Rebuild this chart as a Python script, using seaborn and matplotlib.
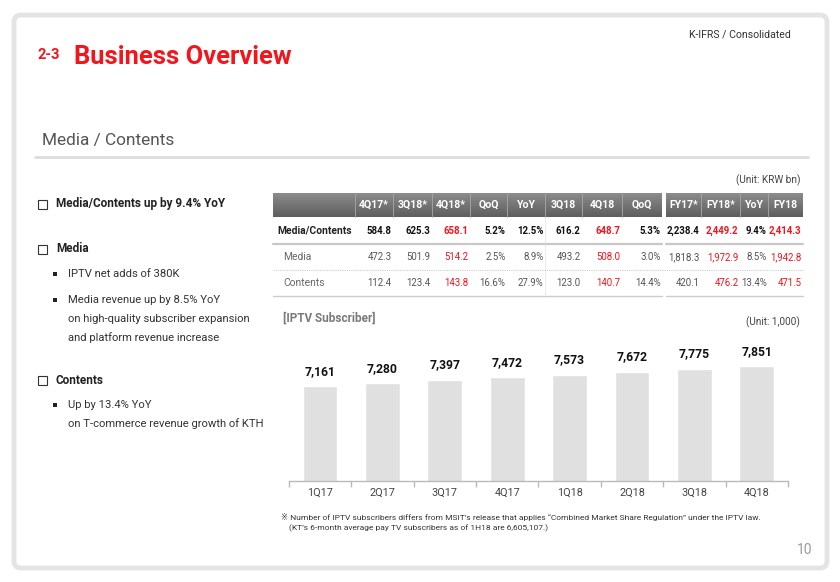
import matplotlib
matplotlib.use('Agg')
import matplotlib.pyplot as plt
import seaborn as sns
import numpy as np
from matplotlib.patches import Rectangle, FancyBboxPatch

# ---- data ----
quarters = ['1Q17', '2Q17', '3Q17', '4Q17', '1Q18', '2Q18', '3Q18', '4Q18']
iptv_subs = [7161, 7280, 7397, 7472, 7573, 7672, 7775, 7851]

table_cols = ['4Q17*', '3Q18*', '4Q18*', 'QoQ', 'YoY', '3Q18', '4Q18', 'QoQ',
              'FY17*', 'FY18*', 'YoY', 'FY18']
row_labels = ['Media/Contents', 'Media', 'Contents']
media_contents = [584.8, 625.3, 658.1, 5.2, 12.5, 616.2, 648.7, 5.3, 2238.4, 2449.2, 9.4, 2414.3]
media = [472.3, 501.9, 514.2, 2.5, 8.9, 493.2, 508.0, 3.0, 1818.3, 1972.9, 8.5, 1942.8]
contents = [112.4, 123.4, 143.8, 16.6, 27.9, 123.0, 140.7, 14.4, 420.1, 476.2, 13.4, 471.5]
pct_cols = [3, 4, 7, 10]
red_cols = [2, 6, 9, 11]
shaded_cols = [2, 6, 11]

bullets = [
    ('box', ['Media/Contents up by 9.4% YoY']),
    ('box', ['Media']),
    ('dot', ['IPTV net adds of 380K']),
    ('dot', ['Media revenue up by 8.5% YoY', 'on high-quality subscriber expansion',
             'and platform revenue increase']),
    ('box', ['Contents']),
    ('dot', ['Up by 13.4% YoY', 'on T-commerce revenue growth of KTH']),
]

sns.set_theme(style='white')
plt.rcParams['font.family'] = ['Roboto', 'DejaVu Sans']

RED = '#f2151c'
W, H = 840, 582
fig = plt.figure(figsize=(W / 100, H / 100), dpi=100)

# full-page canvas in pixel coordinates
cv = fig.add_axes([0, 0, 1, 1])
cv.set_xlim(0, W)
cv.set_ylim(H, 0)
cv.axis('off')

cv.add_patch(FancyBboxPatch((14, 15), 813, 553, boxstyle='round,pad=0,rounding_size=7',
                            fc='white', ec='#e4e4e4', lw=3.5))

cv.text(791, 34, 'K-IFRS / Consolidated', ha='right', va='center', fontsize=7.6, color='#333333')
cv.text(38, 55, '2-3', ha='left', va='center', fontsize=10.5, color=RED, fontweight='bold')
cv.text(74, 57, 'Business Overview', ha='left', va='center', fontsize=18.4, color=RED,
        fontweight='bold')
cv.text(42, 140, 'Media / Contents', ha='left', va='center', fontsize=12.4, color='#555555')
cv.plot([35, 808], [157, 157], color='#dddddd', lw=2)

# ---- left text ----
y_pos = [204, 249, 274, 300, 380, 405]
for (kind, lines), y in zip(bullets, y_pos):
    if kind == 'box':
        cv.add_patch(Rectangle((38, y - 4.5), 9, 9, fc='white', ec='#333333', lw=0.8))
        cv.text(56, y, lines[0], ha='left', va='center', fontsize=8.5, fontweight='bold',
                color='#222222')
    else:
        cv.add_patch(Rectangle((52.5, y - 2), 4, 4, fc='#222222', ec='none'))
        for i, line in enumerate(lines):
            cv.text(68, y + i * 18.7, line, ha='left', va='center', fontsize=8.1, color='#333333')

# ---- table ----
lefts = [355, 393, 432, 470, 507, 545, 582, 622, 666, 701, 740, 768]
rights = [393, 432, 470, 507, 545, 582, 622, 662, 701, 740, 768, 803]
tx0 = 273
ht, hb = 193, 217
row_edges = [217, 244, 270, 296]

cv.text(800, 180, '(Unit: KRW bn)', ha='right', va='center', fontsize=7.2, color='#444444')

grad = np.linspace(0, 1, 50).reshape(-1, 1)
cv.imshow(grad, cmap=sns.blend_palette(['#8c8c8c', '#5e5e5e'], as_cmap=True),
          extent=(tx0, 803, hb, ht), aspect='auto', zorder=1)
cv.set_xlim(0, W)
cv.set_ylim(H, 0)
cv.add_patch(Rectangle((662, ht - 1), 4, hb - ht + 2, fc='white', ec='none', zorder=2))
for x in lefts[:8] + lefts[9:]:
    cv.plot([x, x], [ht, hb], color='#a8a8a8', lw=0.6, zorder=2)
for c, name in enumerate(table_cols):
    cv.text((lefts[c] + rights[c]) / 2, (ht + hb) / 2, name, ha='center', va='center',
            fontsize=7.6, color='white', fontweight='bold', zorder=3)

# total row background + shaded columns
cv.add_patch(Rectangle((tx0, row_edges[0]), 803 - tx0, row_edges[1] - row_edges[0],
                       fc='#f4f4f4', ec='none', zorder=0))
for c in shaded_cols:
    cv.add_patch(Rectangle((lefts[c], row_edges[1]), rights[c] - lefts[c],
                           row_edges[3] - row_edges[1], fc='#f3f3f3', ec='none', zorder=0))
cv.add_patch(Rectangle((662, row_edges[0]), 4, row_edges[3] - row_edges[0],
                       fc='white', ec='none', zorder=1))

cv.plot([tx0, 662], [row_edges[1], row_edges[1]], color='#c8c8c8', lw=1.6, zorder=2)
cv.plot([666, 803], [row_edges[1], row_edges[1]], color='#c8c8c8', lw=1.6, zorder=2)
cv.plot([tx0, 803], [row_edges[2], row_edges[2]], color='#cccccc', lw=0.8, ls=(0, (1, 1)), zorder=2)
cv.plot([tx0, 662], [row_edges[3], row_edges[3]], color='#cccccc', lw=1, zorder=2)
cv.plot([666, 803], [row_edges[3], row_edges[3]], color='#cccccc', lw=1, zorder=2)
cv.plot([545, 545], [row_edges[0], row_edges[3]], color='#d0d0d0', lw=0.6, ls=(0, (1, 1)), zorder=2)

rows = [media_contents, media, contents]
for r, (label, vals) in enumerate(zip(row_labels, rows)):
    yc = (row_edges[r] + row_edges[r + 1]) / 2
    bold = r == 0
    cv.text(277 if bold else 283, yc, label, ha='left', va='center', fontsize=7.4,
            fontweight='bold' if bold else 'normal', color='#222222' if bold else '#666666',
            zorder=3)
    for c, v in enumerate(vals):
        s = f'{v:.1f}%' if c in pct_cols else f'{v:,.1f}'
        col = RED if c in red_cols else ('#111111' if bold else '#555555')
        cv.text(rights[c] - 1.5, yc, s, ha='right', va='center', fontsize=6.9,
                fontweight='bold' if bold else 'normal', color=col, zorder=3)

# ---- bar chart ----
cv.text(283, 318, '[IPTV Subscriber]', ha='left', va='center', fontsize=8.5,
        fontweight='bold', color='#7a7a7a')
cv.text(800, 322, '(Unit: 1,000)', ha='right', va='center', fontsize=7.2, color='#444444')

bx0, bx1, by0, by1 = 288.8, 788, 481, 335
ax = fig.add_axes([bx0 / W, 1 - by0 / H, (bx1 - bx0) / W, (by0 - by1) / H])
sns.barplot(x=quarters, y=iptv_subs, color='#e0e0e0', saturation=1, width=0.56, ax=ax)
ax.set_facecolor('none')
ax.set_xlim(-0.5, 7.5)
ax.set_ylim(3900, 3900 + 146 * 34.5)
ax.bar_label(ax.containers[0], labels=[f'{v:,}' for v in iptv_subs], padding=6,
             fontsize=8.7, fontweight='bold', color='#111111')
for s in ['top', 'left', 'right']:
    ax.spines[s].set_visible(False)
ax.spines['bottom'].set_color('#bbbbbb')
ax.spines['bottom'].set_linewidth(1)
ax.set_yticks([])
ax.set_xticks(np.arange(-0.5, 8.5, 1), minor=True)
ax.tick_params(axis='x', which='major', length=0, pad=5, labelsize=7.8, labelcolor='#444444')
ax.tick_params(axis='x', which='minor', length=4, color='#bbbbbb', width=1, bottom=True)
ax.set_xlabel('')
ax.set_ylabel('')

# ---- footnote ----
cv.text(281, 517, '\u203b Number of IPTV subscribers differs from MSIT\u2019s release that applies '
        '\u201cCombined Market Share Regulation\u201d under the IPTV law.',
        ha='left', va='center', fontsize=6.05, color='#333333')
cv.text(289, 528, '(KT\u2019s 6-month average pay TV subscribers as of 1H18 are 6,605,107.)',
        ha='left', va='center', fontsize=6.05, color='#333333')
cv.text(812, 550, '10', ha='right', va='center', fontsize=10, color='#9a9a9a')

fig.savefig('out.png', dpi=100)
plt.close(fig)
